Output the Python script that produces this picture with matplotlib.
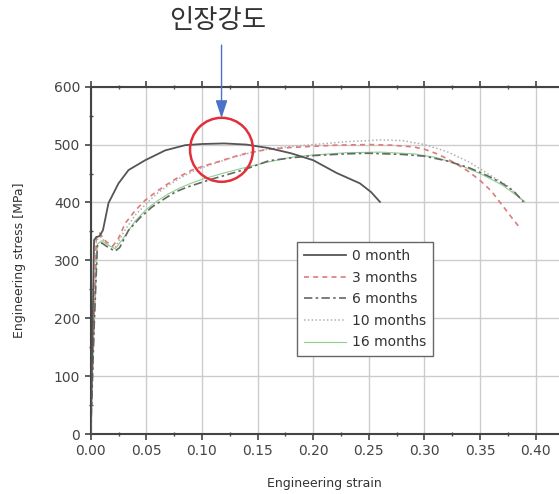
import matplotlib
matplotlib.use("Agg")
import matplotlib.pyplot as plt
from matplotlib.patches import Ellipse
from matplotlib.ticker import MultipleLocator

# ---- data ----
x_0m = [0.0, 0.0015, 0.003, 0.005, 0.008, 0.011, 0.016, 0.025, 0.034, 0.049, 0.067, 0.085,
        0.10, 0.12, 0.14, 0.16, 0.18, 0.20, 0.221, 0.242, 0.252, 0.26]
y_0m = [0, 160, 335, 340, 342, 352, 399, 433, 456, 473, 490, 499,
        501, 502, 500, 494, 485, 473, 451, 433, 418, 401]

x_3m = [0.0, 0.003, 0.005, 0.008, 0.014, 0.020, 0.025, 0.031, 0.04, 0.049, 0.06, 0.07, 0.08,
        0.091, 0.10, 0.114, 0.127, 0.14, 0.16, 0.18, 0.20, 0.22, 0.25, 0.27, 0.29, 0.30, 0.31,
        0.32, 0.33, 0.34, 0.35, 0.36, 0.37, 0.38, 0.385]
y_3m = [0, 200, 340, 347, 332, 325, 338, 364, 386, 404, 420, 433, 445,
        456, 462, 470, 478, 485, 492, 495, 497, 499, 500, 499, 496, 492, 485,
        476, 465, 453, 438, 420, 395, 370, 358]

x_6m = [0.0, 0.003, 0.006, 0.01, 0.016, 0.022, 0.026, 0.034, 0.045, 0.055, 0.066, 0.076,
        0.086, 0.097, 0.11, 0.121, 0.14, 0.16, 0.18, 0.20, 0.23, 0.25, 0.28, 0.30, 0.32,
        0.34, 0.35, 0.36, 0.37, 0.38, 0.389]
y_6m = [0, 180, 325, 330, 322, 316, 322, 352, 375, 392, 406, 418,
        426, 433, 441, 447, 458, 472, 477, 481, 484, 485, 483, 480, 472,
        460, 452, 443, 433, 420, 401]

x_10m = [0.0, 0.003, 0.005, 0.009, 0.016, 0.022, 0.03, 0.04, 0.05, 0.06, 0.07, 0.08, 0.09,
         0.10, 0.115, 0.13, 0.15, 0.17, 0.20, 0.23, 0.26, 0.28, 0.30, 0.32, 0.34, 0.36,
         0.375, 0.39]
y_10m = [0, 200, 335, 340, 326, 322, 350, 378, 398, 416, 430, 442, 452,
         460, 470, 479, 489, 495, 500, 505, 508, 507, 500, 488, 470, 446,
         428, 400]

x_16m = [0.0, 0.003, 0.006, 0.01, 0.016, 0.022, 0.03, 0.04, 0.05, 0.06, 0.07, 0.08, 0.09,
         0.10, 0.12, 0.14, 0.155, 0.18, 0.20, 0.23, 0.26, 0.29, 0.31, 0.33, 0.35, 0.37, 0.39]
y_16m = [0, 190, 328, 334, 326, 320, 340, 368, 388, 403, 415, 425, 433,
         440, 451, 461, 468, 478, 482, 486, 487, 484, 478, 466, 450, 430, 402]

labels = ["0 month", "3 months", "6 months", "10 months", "16 months"]
x_ticks = [0.00, 0.05, 0.10, 0.15, 0.20, 0.25, 0.30, 0.35, 0.40]
y_ticks = [0, 100, 200, 300, 400, 500, 600]
title_text = "인장강도"
x_label = "Engineering strain"
y_label = "Engineering stress [MPa]"

# ---- figure ----
W, H = 559, 494
fig = plt.figure(figsize=(W / 100, H / 100), dpi=100)
ax = fig.add_axes([90.7 / W, 1 - 434 / H, (W - 90.7) / W, (434 - 86.7) / H])

ax.plot(x_0m, y_0m, color="#555555", lw=1.3, label=labels[0], zorder=5)
ax.plot(x_3m, y_3m, color="#e07a7a", lw=1.2, ls=(0, (3, 2.5)), label=labels[1], zorder=4)
ax.plot(x_6m, y_6m, color="#666666", lw=1.2, ls=(0, (5, 2, 1.5, 2)), label=labels[2], zorder=4)
ax.plot(x_10m, y_10m, color="#b0b0b0", lw=1.1, ls=(0, (1, 1.5)), label=labels[3], zorder=3)
ax.plot(x_16m, y_16m, color="#8fd08f", lw=0.8, label=labels[4], zorder=3)

ax.set_xlim(0, (W - 90.7) / 1112.5)
ax.set_ylim(0, 600)
ax.set_xticks(x_ticks)
ax.set_xticklabels([f"{v:.2f}" for v in x_ticks])
ax.set_yticks(y_ticks)
ax.xaxis.set_minor_locator(MultipleLocator(0.025))
ax.yaxis.set_minor_locator(MultipleLocator(50))

ax.grid(True, which="major", color="#cccccc", lw=1.0, zorder=0)
ax.set_axisbelow(True)

for side in ["left", "bottom", "top"]:
    ax.spines[side].set_color("#444444")
    ax.spines[side].set_linewidth(1.5)
ax.spines["right"].set_visible(False)

ax.tick_params(which="major", direction="out", length=4, width=1.2, color="#444444",
               labelsize=10, labelcolor="#444444", top=True)
ax.tick_params(which="minor", direction="inout", length=3, width=1.0, color="#444444",
               top=True)
ax.tick_params(axis="x", pad=3)

ax.set_xlabel(x_label, fontsize=9, color="#333333", labelpad=14)
ax.set_ylabel(y_label, fontsize=9, color="#333333", labelpad=20)

leg = ax.legend(loc="upper left", bbox_to_anchor=((297 - 90.7) / (W - 90.7), (434 - 242) / 347.3),
                borderaxespad=0, fancybox=False, framealpha=1, edgecolor="#666666",
                fontsize=10, handlelength=3.0, handletextpad=0.45, labelspacing=0.55,
                borderpad=0.5)
leg.get_frame().set_linewidth(1.0)
for t in leg.get_texts():
    t.set_color("#333333")

# red circle annotation
circ = Ellipse((0.1176, 491), width=63 / 1112.5, height=64 / 0.579, fill=False,
               edgecolor="#e0303a", lw=1.8, clip_on=False, zorder=6)
ax.add_patch(circ)

# arrow from title
ax.annotate("", xy=(0.1176, (434 - 118) / 0.579), xytext=(0.1176, (434 - 45) / 0.579),
            annotation_clip=False,
            arrowprops=dict(arrowstyle="-|>,head_length=0.9,head_width=0.3",
                            mutation_scale=12, color="#4a72c8", lw=1.0,
                            shrinkA=0, shrinkB=0))

fig.text(217.5 / W, 1 - 21 / H, title_text, ha="center", va="center", fontsize=19,
         color="#333333", family=["Noto Sans CJK KR", "DejaVu Sans"])

fig.savefig("out.png", dpi=100)
